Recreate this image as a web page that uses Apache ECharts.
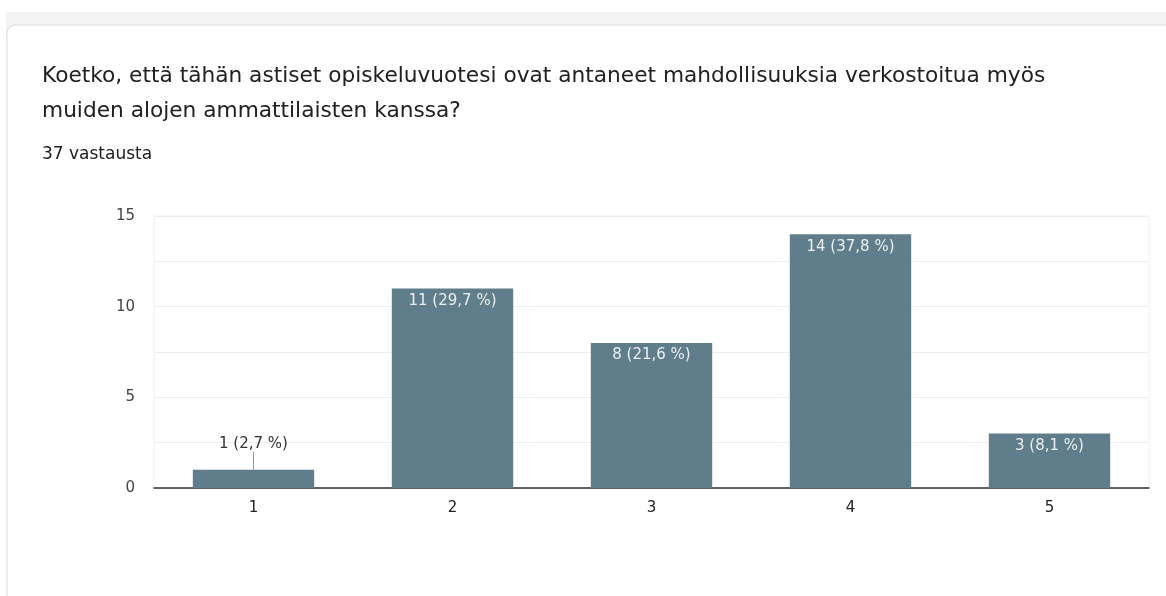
<!DOCTYPE html>
<html>
<head>
<meta charset="utf-8">
<script src="https://cdn.jsdelivr.net/npm/echarts@6/dist/echarts.min.js"></script>
<style>
  html, body { margin: 0; padding: 0; background: #fff; }
  #chart { width: 1166px; height: 596px; }
</style>
</head>
<body>
<div id="chart"></div>
<script>
  // answers on a 1..5 scale
  const categories = ['1', '2', '3', '4', '5'];
  const counts = [1, 11, 8, 14, 3];
  const percents = ['2,7', '29,7', '21,6', '37,8', '8,1'];
  const yTicks = [0, 5, 10, 15];

  const myChart = echarts.init(document.getElementById('chart'));

  const option = {
    animation: false,
    graphic: [
      {
        type: 'rect',
        shape: { x: 6, y: 12, width: 1170, height: 30 },
        style: { fill: '#f3f3f3' },
        z: -10,
      },
      {
        type: 'rect',
        shape: { x: 7, y: 25, width: 1170, height: 600, r: 8 },
        style: { fill: '#fff', stroke: '#dadce0', lineWidth: 1 },
        z: -9,
      },
      {
        type: 'text',
        left: 42,
        top: 146,
        style: {
          text: '37 vastausta',
          font: '17px "DejaVu Sans"',
          fill: '#202124',
        },
      },
    ],
    title: {
      text: 'Koetko, että tähän astiset opiskeluvuotesi ovat antaneet mahdollisuuksia verkostoitua myös\nmuiden alojen ammattilaisten kanssa?',
      left: 37,
      top: 54,
      textStyle: {
        fontFamily: 'DejaVu Sans',
        fontSize: 21.7,
        fontWeight: 'normal',
        color: '#202124',
        lineHeight: 35,
      },
    },
    grid: {
      left: 154,
      right: 17,
      top: 216,
      bottom: 108,
      show: true,
      borderColor: '#eeeeee',
      borderWidth: 1,
      containLabel: false,
    },
    xAxis: {
      type: 'category',
      data: categories,
      axisLine: { lineStyle: { color: '#333', width: 1.5 } },
      axisTick: { show: false },
      axisLabel: {
        color: '#222',
        fontFamily: 'DejaVu Sans',
        fontSize: 15,
        margin: 13,
      },
    },
    yAxis: {
      type: 'value',
      min: 0,
      max: 15,
      interval: 2.5,
      axisLine: { show: false },
      axisTick: { show: false },
      splitLine: { lineStyle: { color: '#eeeeee' } },
      axisLabel: {
        color: '#444',
        fontFamily: 'DejaVu Sans',
        fontSize: 15,
        margin: 19,
        formatter: (v) => (yTicks.includes(v) ? String(v) : ''),
      },
    },
    series: [
      {
        type: 'bar',
        barWidth: '61%',
        itemStyle: { color: '#607d8b' },
        data: counts.map((c, i) => {
          const item = { value: c };
          if (i === 0) {
            item.label = { color: '#333' };
          }
          return item;
        }),
        label: {
          show: true,
          position: 'insideTop',
          distance: 5,
          color: '#eceff1',
          fontFamily: 'DejaVu Sans',
          fontSize: 15,
          formatter: (p) => p.value + ' (' + percents[p.dataIndex] + ' %)',
        },
        labelLayout: (p) => (p.dataIndex === 0 ? { dy: -38 } : {}),
        labelLine: {
          show: true,
          lineStyle: { color: '#999', width: 1 },
        },
      },
    ],
  };

  myChart.setOption(option);
</script>
</body>
</html>
